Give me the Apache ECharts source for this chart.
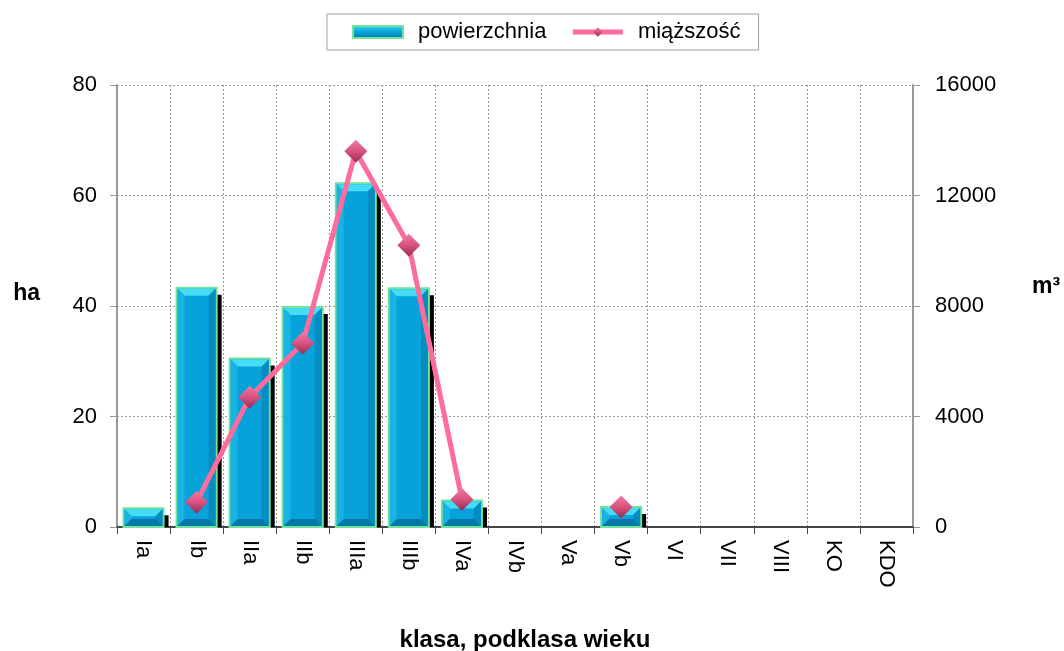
<!DOCTYPE html>
<html>
<head>
<meta charset="utf-8">
<script src="https://cdn.jsdelivr.net/npm/echarts@6/dist/echarts.min.js"></script>
<style>
  html, body { margin: 0; padding: 0; background: #fff; }
  #chart { width: 1064px; height: 651px; }
</style>
</head>
<body>
<div id="chart"></div>
<script>
// klasy i podklasy wieku
const categories = ['Ia', 'Ib', 'IIa', 'IIb', 'IIIa', 'IIIb', 'IVa', 'IVb', 'Va', 'Vb', 'VI', 'VII', 'VIII', 'KO', 'KDO']
// powierzchnia [ha]
const areaValues = [3.4, 43.3, 30.5, 39.8, 62.2, 43.2, 4.8, 0, 0, 3.6, 0, 0, 0, 0, 0]
// miazszosc [m3]
const volumeValues = [null, 900, 4700, 6650, 13600, 10200, 1000, null, null, 720, null, null, null, null, null]
const leftTicks = { min: 0, max: 80, interval: 20 }
const rightTicks = { min: 0, max: 16000, interval: 4000 }

const chart = echarts.init(document.getElementById('chart'))

const FONT = '"Liberation Sans", Arial, sans-serif'

// slupek z fazowaniem (jak w Excelu) + cien
function renderBevelBar(params, api) {
  const v = api.value(1)
  if (!v) return null
  const top = api.coord([api.value(0), v])
  const base = api.coord([api.value(0), 0])
  const w = api.size([1, 0])[0] * 0.755
  const l = top[0] - w / 2
  const r = l + w
  const t = top[1]
  const b = base[1]
  const h = b - t
  const bv = Math.min(8, h / 2, w / 2)
  return {
    type: 'group',
    children: [
      { type: 'rect', shape: { x: l + 5, y: t + 7, width: w, height: h - 7 }, style: { fill: '#000' } },
      { type: 'rect', shape: { x: l, y: t, width: w, height: h }, style: { fill: '#07a2d9', stroke: '#72e39a', lineWidth: 2 } },
      { type: 'polygon', shape: { points: [[l + 1, t + 1], [r - 1, t + 1], [r - bv, t + bv], [l + bv, t + bv]] }, style: { fill: '#45dcf7' } },
      { type: 'polygon', shape: { points: [[l + 1, t + 1], [l + bv, t + bv], [l + bv, b - bv], [l + 1, b - 1]] }, style: { fill: '#18b2e4' } },
      { type: 'polygon', shape: { points: [[r - 1, t + 1], [r - bv, t + bv], [r - bv, b - bv], [r - 1, b - 1]] }, style: { fill: '#058cc0' } },
      { type: 'polygon', shape: { points: [[l + 1, b - 1], [l + bv, b - bv], [r - bv, b - bv], [r - 1, b - 1]] }, style: { fill: '#0578a8' } }
    ]
  }
}

const option = {
  backgroundColor: '#fff',
  textStyle: { fontFamily: FONT },
  legend: {
    top: 14,
    left: 327,
    padding: [7, 18, 7, 25],
    borderColor: '#a0a0a0',
    borderWidth: 1,
    itemGap: 24,
    itemWidth: 50,
    itemHeight: 12,
    textStyle: { fontSize: 22, color: '#000', fontFamily: FONT, padding: [0, 0, 0, 10] },
    data: [
      {
        name: 'powierzchnia',
        icon: 'rect',
        itemStyle: {
          color: new echarts.graphic.LinearGradient(0, 0, 0, 1, [
            { offset: 0, color: '#45dcf7' },
            { offset: 0.5, color: '#07a2d9' },
            { offset: 1, color: '#0578a8' }
          ]),
          borderColor: '#72e39a',
          borderWidth: 2
        }
      },
      { name: 'miąższość', lineStyle: { width: 5, color: '#ff6b9c' } }
    ]
  },
  grid: { left: 117, right: 151, top: 85, bottom: 124, outerBoundsMode: 'none', containLabel: false },
  xAxis: {
    type: 'category',
    data: categories,
    boundaryGap: true,
    name: 'klasa, podklasa wieku',
    nameLocation: 'middle',
    nameGap: 101,
    nameTextStyle: { fontSize: 24, fontWeight: 'bold', color: '#000', padding: [0, 0, 0, 20] },
    axisLine: { lineStyle: { color: '#444', width: 2 } },
    axisTick: { show: true, length: 7, lineStyle: { color: '#444' } },
    axisLabel: { rotate: -90, fontSize: 22, color: '#000', margin: 13 },
    splitLine: { show: true, lineStyle: { color: '#999', type: [2, 2], width: 1 } }
  },
  yAxis: [
    {
      type: 'value',
      min: leftTicks.min,
      max: leftTicks.max,
      interval: leftTicks.interval,
      name: 'ha',
      nameLocation: 'middle',
      nameRotate: 0,
      nameGap: 77,
      nameTextStyle: { fontSize: 23, fontWeight: 'bold', color: '#000', verticalAlign: 'bottom', padding: [0, 0, 1, 0] },
      axisLine: { show: true, lineStyle: { color: '#999', width: 2 } },
      axisTick: { show: true, length: 7, lineStyle: { color: '#999' } },
      axisLabel: { fontSize: 22, color: '#000', margin: 20 },
      splitLine: { show: true, lineStyle: { color: '#999', type: [2, 2], width: 1 } }
    },
    {
      type: 'value',
      min: rightTicks.min,
      max: rightTicks.max,
      interval: rightTicks.interval,
      name: 'm³',
      nameLocation: 'middle',
      nameRotate: 0,
      nameGap: 119,
      nameTextStyle: { fontSize: 23, fontWeight: 'bold', color: '#000', verticalAlign: 'bottom', padding: [0, 0, 8, 0] },
      axisLine: { show: true, lineStyle: { color: '#999', width: 2 } },
      axisTick: { show: true, length: 7, lineStyle: { color: '#999' } },
      axisLabel: { fontSize: 22, color: '#000', margin: 22, formatter: v => String(v) },
      splitLine: { show: false }
    }
  ],
  series: [
    {
      name: 'powierzchnia',
      type: 'custom',
      renderItem: renderBevelBar,
      data: areaValues.map((v, i) => [i, v]),
      encode: { x: 0, y: 1 },
      itemStyle: { color: '#07a2d9' },
      z: 2
    },
    {
      name: 'miąższość',
      type: 'line',
      yAxisIndex: 1,
      data: volumeValues,
      symbol: 'diamond',
      symbolSize: [23, 23],
      connectNulls: false,
      lineStyle: { color: '#ff6b9c', width: 5 },
      itemStyle: {
        color: new echarts.graphic.LinearGradient(0, 0, 0, 1, [
          { offset: 0, color: '#f27ba3' },
          { offset: 0.5, color: '#d9527f' },
          { offset: 1, color: '#8e2f55' }
        ])
      },
      z: 3
    }
  ]
}

chart.setOption(option)
</script>
</body>
</html>
